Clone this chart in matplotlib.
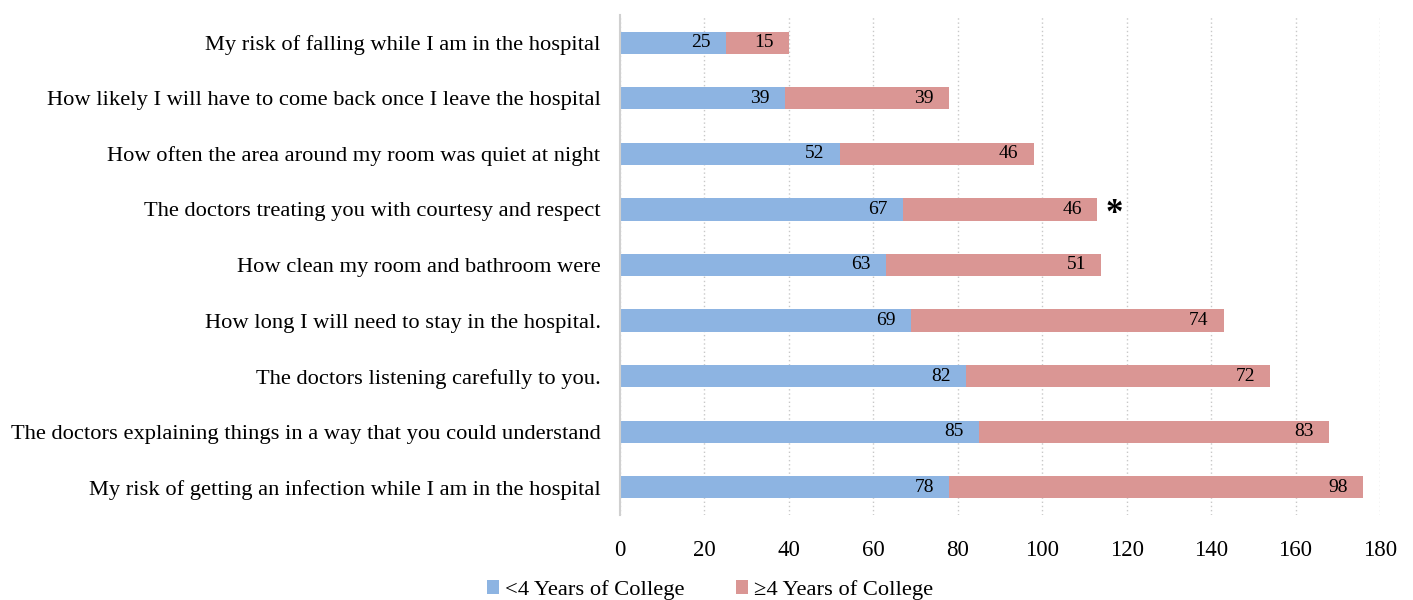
import numpy as np
import matplotlib
matplotlib.use("Agg")
from matplotlib import pyplot as plt

plt.rcParams['font.family'] = ['Liberation Serif', 'DejaVu Serif']

# data, top to bottom as in the picture
categories = [
    "My risk of falling while I am in the hospital",
    "How likely I will have to come back once I leave the hospital",
    "How often the area around my room was quiet at night",
    "The doctors treating you with courtesy and respect",
    "How clean my room and bathroom were",
    "How long I will need to stay in the hospital.",
    "The doctors listening carefully to you.",
    "The doctors explaining things in a way that you could understand",
    "My risk of getting an infection while I am in the hospital",
]
less_than_4 = [25, 39, 52, 67, 63, 69, 82, 85, 78]
four_plus = [15, 39, 46, 46, 51, 74, 72, 83, 98]
starred = ["The doctors treating you with courtesy and respect"]
series_names = ["<4 Years of College", "\u22654 Years of College"]

blue = "#8db4e2"
pink = "#da9694"

fig = plt.figure(figsize=(14.13, 6.0), dpi=100)
ax = fig.add_axes([0.4388, 0.1417, 0.5378, 0.8333])

y = np.arange(len(categories))
a = np.array(less_than_4)
b = np.array(four_plus)
bars1 = ax.barh(y, a, height=0.4, color=blue, label=series_names[0], zorder=2)
bars2 = ax.barh(y, b, left=a, height=0.4, color=pink, label=series_names[1], zorder=2)

# value labels at the inside end of each segment
for yi, left, w in zip(y, np.zeros_like(a), a):
    ax.annotate(str(w), (left + w, yi), xytext=(-11, 0), textcoords="offset points",
                ha="right", va="center", fontsize=14)
for yi, left, w in zip(y, a, b):
    ax.annotate(str(w), (left + w, yi), xytext=(-11, 0), textcoords="offset points",
                ha="right", va="center", fontsize=14)

for i, cat in enumerate(categories):
    if cat in starred:
        ax.annotate("*", (a[i] + b[i], y[i]), xytext=(6, -4), textcoords="offset points",
                    ha="left", va="center", fontsize=25, fontweight="bold")

ax.set_ylim(len(categories) - 0.5, -0.5)
ax.set_xlim(0, 180)
ax.set_xticks(np.arange(0, 181, 20))
ax.set_yticks(y)
ax.set_yticklabels(categories, fontsize=16.2)
ax.tick_params(axis="x", labelsize=16.5, length=0, pad=18)
ax.tick_params(axis="y", length=0, pad=14)

ax.xaxis.grid(True, color="#c8c8c8", linestyle=(0, (1, 2)), linewidth=1, zorder=0)
ax.set_axisbelow(True)
for s in ["top", "right", "bottom"]:
    ax.spines[s].set_visible(False)
ax.spines["left"].set_color("#d0d0d0")
ax.spines["left"].set_linewidth(1.5)

fig.legend(handles=[bars1, bars2], labels=series_names, loc="center",
           bbox_to_anchor=(0.5025, 0.017), ncol=2, frameon=False, fontsize=16.2,
           handlelength=0.55, handleheight=0.55, handletextpad=0.25, columnspacing=2.3)

fig.savefig("out.png", dpi=100)
